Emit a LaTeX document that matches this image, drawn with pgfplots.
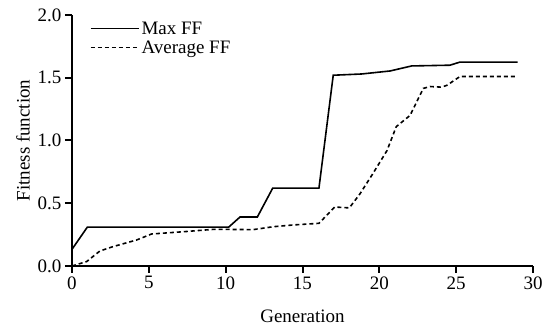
\documentclass[border=0pt]{standalone}
\usepackage{pgfplots}
\pgfplotsset{compat=1.18}
\usepackage{fontspec}
\setmainfont{Liberation Serif}
\begin{document}
\begin{tikzpicture}
\begin{axis}[
  name=ax,
  scale only axis,
  width=461pt, height=251pt,
  xmin=0, xmax=30, ymin=0, ymax=2,
  axis x line*=bottom, axis y line*=left,
  every outer x axis line/.append style={line width=2pt, black, -},
  every outer y axis line/.append style={line width=2pt, black, -},
  every inner x axis line/.append style={line width=2pt, black, -},
  every inner y axis line/.append style={line width=2pt, black, -},
  xtick={0,5,...,30}, ytick={0,0.5,...,2},
  xtick align=outside, ytick align=outside,
  major tick length=7pt,
  every major tick/.append style={line width=2pt, black},
  xmajorticks=true, ymajorticks=true,
  /pgf/number format/assume math mode=true,
  yticklabel style={/pgf/number format/fixed, /pgf/number format/fixed zerofill, /pgf/number format/precision=1},
  ticklabel style={font=\fontsize{19}{21}\selectfont},
  label style={font=\fontsize{19}{21}\selectfont},
  xlabel={Generation}, ylabel={Fitness function},
  xlabel style={yshift=-14pt},
  ylabel style={yshift=1pt},
  legend style={at={(0.032,0.99)}, anchor=north west, draw=none, fill=none, font=\fontsize{19}{21}\selectfont, row sep=1pt},
  legend cell align=left,
  legend image code/.code={\path (0pt,0pt) -- (48pt,0pt); \draw[#1] (0pt,0pt) -- (34pt,0pt);},
  clip=false,
]
\addplot[black, line width=1.6pt] coordinates {
(0,0.133) (1,0.31) (10.2,0.31) (10.93,0.39) (12.06,0.39) (13.06,0.62) (16.07,0.62)
(17.0,1.52) (18.85,1.53) (20.7,1.554) (22.1,1.594) (24.6,1.60) (25.25,1.625) (29,1.625)
};
\addlegendentry{Max FF}
\addplot[black, line width=1.6pt, dash pattern=on 4pt off 3pt] coordinates {
(0,0) (0.95,0.035) (1.82,0.12) (2.69,0.155) (4.2,0.207) (5.18,0.255) (7.24,0.273)
(9.2,0.292) (11.8,0.29) (13.1,0.313) (14.4,0.327) (16.07,0.34) (17.1,0.47) (18.05,0.463)
(18.74,0.575) (19.6,0.74) (20.5,0.92) (21.1,1.11) (22.0,1.20) (22.86,1.415) (23.3,1.43)
(24.05,1.425) (24.4,1.44) (25.25,1.51) (29,1.51)
};
\addlegendentry{Average FF}
\end{axis}
\pgfresetboundingbox
\path ([shift={(-72pt,-62pt)}]ax.south west) rectangle ([shift={(9pt,15pt)}]ax.north east);
\end{tikzpicture}
\end{document}
